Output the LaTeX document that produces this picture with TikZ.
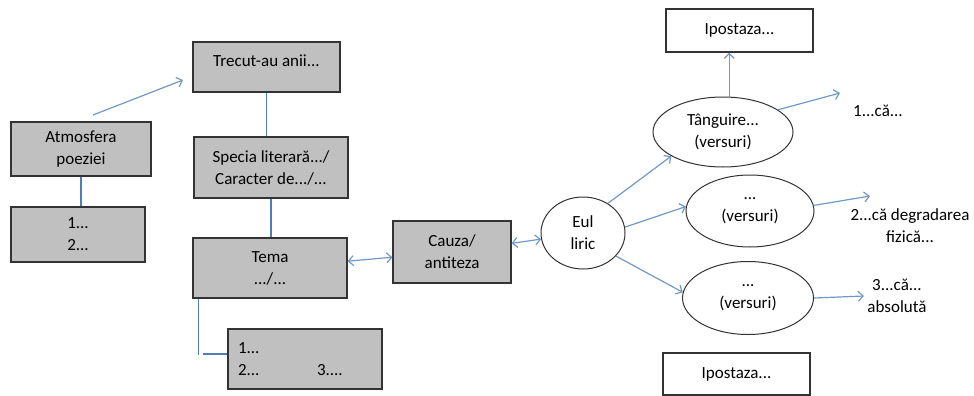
\documentclass[tikz,border=0pt]{standalone}
\usepackage{fontspec}
\setmainfont{Carlito}
\usetikzlibrary{arrows.meta,positioning,calc,shapes.geometric}
\definecolor{lineblue}{HTML}{4F7DB5}
\definecolor{arrowblue}{HTML}{7198C6}
\definecolor{boxgray}{HTML}{C0C0C0}

\begin{document}
\begin{tikzpicture}[x=1pt,y=-1pt,>={Straight Barb[length=5pt,width=10pt]},
 font=\fontsize{17}{22}\selectfont,
 box/.style={draw=black!80,line width=1.2pt,fill=boxgray,align=center,inner sep=0pt},
 ipbox/.style={draw=black!80,line width=1.2pt,fill=white,align=center,inner sep=0pt,
   minimum width=147pt,minimum height=43pt},
 oval/.style={ellipse,draw=black!80,line width=1pt,fill=white,align=center,inner sep=0pt},
 link/.style={lineblue,line width=1.8pt},
 arr/.style={arrowblue,line width=1.2pt}]
 \useasboundingbox (0,0) rectangle (974,396);
 % left column
 \node[box,minimum width=140pt,minimum height=54pt] (atm) at (81,149) {Atmosfera\\poeziei};
 \node[box,minimum width=134pt,minimum height=55pt] (atml) at (78,234.5) {1...\\2...};
 \node[box,minimum width=147pt,minimum height=50pt,text depth=12pt] (trec) at (266.5,67) {Trecut-au anii...};
 \node[box,minimum width=154pt,minimum height=61pt] (spec) at (271,167.5) {Specia literară.../\\Caracter de.../...};
 \node[box,minimum width=154pt,minimum height=60pt] (tema) at (270,268) {Tema\\.../...};
 \node[box,minimum width=154pt,minimum height=60pt,text width=134pt,align=left] (teml) at (305,359)
   {1...\\\makebox[79pt][l]{2...}3....};
 \node[box,minimum width=118pt,minimum height=62pt] (cauza) at (452,252) {Cauza/\\antiteza};
 % right part
 \node[oval,minimum width=84pt,minimum height=72pt] (eul) at (583,233) {Eul\\liric};
 \node[oval,minimum width=140pt,minimum height=70pt] (tang) at (723,132) {Tânguire...\\(versuri)};
 \node[oval,minimum width=128pt,minimum height=72pt] (mid) at (750,211) {...\\(versuri)};
 \node[oval,minimum width=131pt,minimum height=73pt] (bot) at (748,298) {...\\(versuri)};
 \node[ipbox] (ipos1) at (739.5,30.5) {Ipostaza...};
 \node[ipbox,minimum height=42pt] (ipos2) at (736.5,374) {Ipostaza...};
 \node (c1) at (878,111) {1...că...};
 \node[align=center] (c2) at (910,226) {2...că degradarea\\fizică...};
 \node[align=center] (c3) at (897,296) {3...că...\\absolută};
 \coordinate (s0) at (93,115);
 \coordinate (e0) at (183,80);
 \coordinate (e1) at (840,93);
 \coordinate (e2) at (870,196);

 % plain links
 \draw[link] (atm.south) -- (atm.south |- atml.north);
 \draw[link] (trec.south) -- (trec.south |- spec.north);
 \draw[link] (spec.south) -- (spec.south |- tema.north);
 \draw[link] ($(tema.south west)+(6,0)$) -- ++(0,56);
 \draw[link] ($(teml.west)+(-24,-5)$) -- ($(teml.west)+(0,-5)$);
 % arrows
 \draw[arr,->] (s0) -- (e0);
 \draw[arr,<->] (tema) -- (cauza);
 \draw[arr,<->] (cauza) -- (eul);
 \draw[arr,->] (eul.50) -- (tang.205);
 \draw[arr,->] (eul.8) -- (mid.176);
 \draw[arr,->] (eul.-35) -- (bot.175);
 \draw[arr,->] (tang.80) -- (tang.80 |- ipos1.south);
 \draw[arr,->] (tang.22) -- (e1);
 \draw[arr,->] (mid.5) -- (e2);
 \draw[arr,->] (bot.east) -- (c3.west);
\end{tikzpicture}
\end{document}
